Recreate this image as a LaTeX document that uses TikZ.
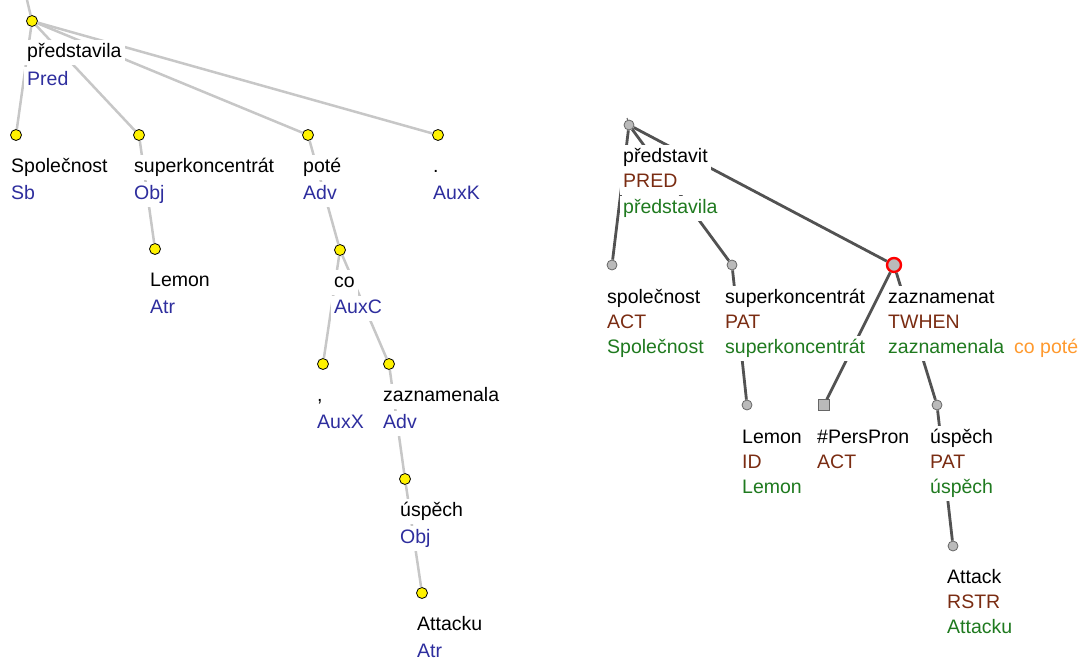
\documentclass[tikz,border=0pt]{standalone}
\usepackage{fontspec}
\setmainfont{Liberation Sans}
\definecolor{afun}{HTML}{2E2E9E}
\definecolor{functor}{HTML}{7A2C12}
\definecolor{tform}{HTML}{1F7A1F}
\definecolor{coref}{HTML}{FF9A2E}
\begin{document}
\begin{tikzpicture}[x=1pt,y=-1pt,
    aedge/.style={line width=2.5pt, draw=black!22},
    tedge/.style={line width=2.8pt, draw=black!68},
    anode/.style={circle, draw=black, fill=yellow, line width=0.8pt, minimum size=11pt, inner sep=0pt},
    tnode/.style={circle, draw=black!60, fill=black!27, line width=0.8pt, minimum size=10pt, inner sep=0pt},
    tfocus/.style={tnode, draw=red, line width=2.4pt, minimum size=14pt},
    tgen/.style={rectangle, draw=black!60, fill=black!27, line width=0.8pt, minimum size=10.5pt, inner sep=0pt},
    lbl/.style={anchor=base west, fill=white, inner xsep=3pt, inner ysep=2.5pt,
        text height=15pt, text depth=5pt, font=\fontsize{19.5}{23}\selectfont}]
    \useasboundingbox (0,0) rectangle (1085,661);

    % Analytický strom (vlevo)
    \coordinate (aroot) at (27,0);
    \node[anode] (apred) at (32,21) {};
    \node[anode] (asb) at (16,135) {};
    \node[anode] (aobj) at (139,135) {};
    \node[anode] (aadv) at (308,135) {};
    \node[anode] (aauxk) at (438,135) {};
    \node[anode] (aatr) at (155,249) {};
    \node[anode] (aauxc) at (340,250) {};
    \node[anode] (aauxx) at (323,364) {};
    \node[anode] (aadv2) at (389,364) {};
    \node[anode] (aobj2) at (405,479) {};
    \node[anode] (aatr2) at (422,593) {};
    % hrany
    \draw[aedge] (aroot) -- (apred);
    \draw[aedge] (apred) -- (asb);
    \draw[aedge] (apred) -- (aobj);
    \draw[aedge] (apred) -- (aadv);
    \draw[aedge] (apred) -- (aauxk);
    \draw[aedge] (aobj) -- (aatr);
    \draw[aedge] (aadv) -- (aauxc);
    \draw[aedge] (aauxc) -- (aauxx);
    \draw[aedge] (aauxc) -- (aadv2);
    \draw[aedge] (aadv2) -- (aobj2);
    \draw[aedge] (aobj2) -- (aatr2);
    % popisky
    \node[lbl] (lpred) at (24,58) {představila};
    \node[lbl, text=afun] (lpredf) at (24,85) {Pred};
    \node[lbl] (lsb) at (8,172) {Společnost};
    \node[lbl, text=afun] (lsbf) at (8,199) {Sb};
    \node[lbl] (lobj) at (131,172) {superkoncentrát};
    \node[lbl, text=afun] (lobjf) at (131,199) {Obj};
    \node[lbl] (ladv) at (300,172) {poté};
    \node[lbl, text=afun] (ladvf) at (300,199) {Adv};
    \node[lbl] (lauxk) at (430,172) {.};
    \node[lbl, text=afun] (lauxkf) at (430,199) {AuxK};
    \node[lbl] (latr) at (147,286) {Lemon};
    \node[lbl, text=afun] (latrf) at (147,313) {Atr};
    \node[lbl] (lauxc) at (331,287) {co};
    \node[lbl, text=afun] (lauxcf) at (331,313) {AuxC};
    \node[lbl] (lauxx) at (314,401) {,};
    \node[lbl, text=afun] (lauxxf) at (314,428) {AuxX};
    \node[lbl] (ladv2) at (380,401) {zaznamenala};
    \node[lbl, text=afun] (ladv2f) at (380,428) {Adv};
    \node[lbl] (lobj2) at (397,516) {úspěch};
    \node[lbl, text=afun] (lobj2f) at (397,543) {Obj};
    \node[lbl] (latr2) at (414,630) {Attacku};
    \node[lbl, text=afun] (latr2f) at (414,657) {Atr};

    % Tektogramatický strom (vpravo)
    \coordinate (troot) at (627,118);
    \node[tnode] (tpred) at (629,125) {};
    \node[tnode] (tact) at (612,265) {};
    \node[tnode] (tpat) at (732,265) {};
    \node[tfocus] (ttwhen) at (894,265) {};
    \node[tnode] (tid) at (747,405) {};
    \node[tgen] (tact2) at (824,405) {};
    \node[tnode] (tpat2) at (937,405) {};
    \node[tnode] (trstr) at (953,546) {};
    % hrany
    \draw[tedge, line width=1pt] (troot) -- (tpred);
    \draw[tedge] (tpred) -- (tact);
    \draw[tedge] (tpred) -- (tpat);
    \draw[tedge] (tpred) -- (ttwhen);
    \draw[tedge] (tpat) -- (tid);
    \draw[tedge] (ttwhen) -- (tact2);
    \draw[tedge] (ttwhen) -- (tpat2);
    \draw[tedge] (tpat2) -- (trstr);
    % popisky
    \node[lbl] (mpred) at (620,162) {představit};
    \node[lbl, text=functor] (mpredf) at (620,187) {PRED\hspace*{8pt}};
    \node[lbl, text=tform] (mpredw) at (620,213) {představila};
    \node[lbl] (mact) at (604,303) {společnost};
    \node[lbl, text=functor] (mactf) at (604,328) {ACT};
    \node[lbl, text=tform] (mactw) at (604,353) {Společnost};
    \node[lbl] (mpat) at (722,303) {superkoncentrát};
    \node[lbl, text=functor] (mpatf) at (722,328) {PAT};
    \node[lbl, text=tform] (mpatw) at (722,353) {superkoncentrát};
    \node[lbl] (mtwhen) at (885,303) {zaznamenat};
    \node[lbl, text=functor] (mtwhenf) at (885,328) {TWHEN};
    \node[lbl, text=tform] (mtwhenw) at (885,353) {zaznamenala};
    \node[lbl, text=coref] (mtwhenc) at (1011,353) {co poté};
    \node[lbl] (mid) at (739,443) {Lemon};
    \node[lbl, text=functor] (midf) at (739,468) {ID};
    \node[lbl, text=tform] (midw) at (739,493) {Lemon};
    \node[lbl] (mact2) at (814,443) {\#PersPron};
    \node[lbl, text=functor] (mact2f) at (814,468) {ACT};
    \node[lbl] (mpat2) at (927,443) {úspěch};
    \node[lbl, text=functor] (mpat2f) at (927,468) {PAT};
    \node[lbl, text=tform] (mpat2w) at (927,493) {úspěch};
    \node[lbl] (mrstr) at (944,583) {Attack};
    \node[lbl, text=functor] (mrstrf) at (944,608) {RSTR};
    \node[lbl, text=tform] (mrstrw) at (944,633) {Attacku};
\end{tikzpicture}
\end{document}
